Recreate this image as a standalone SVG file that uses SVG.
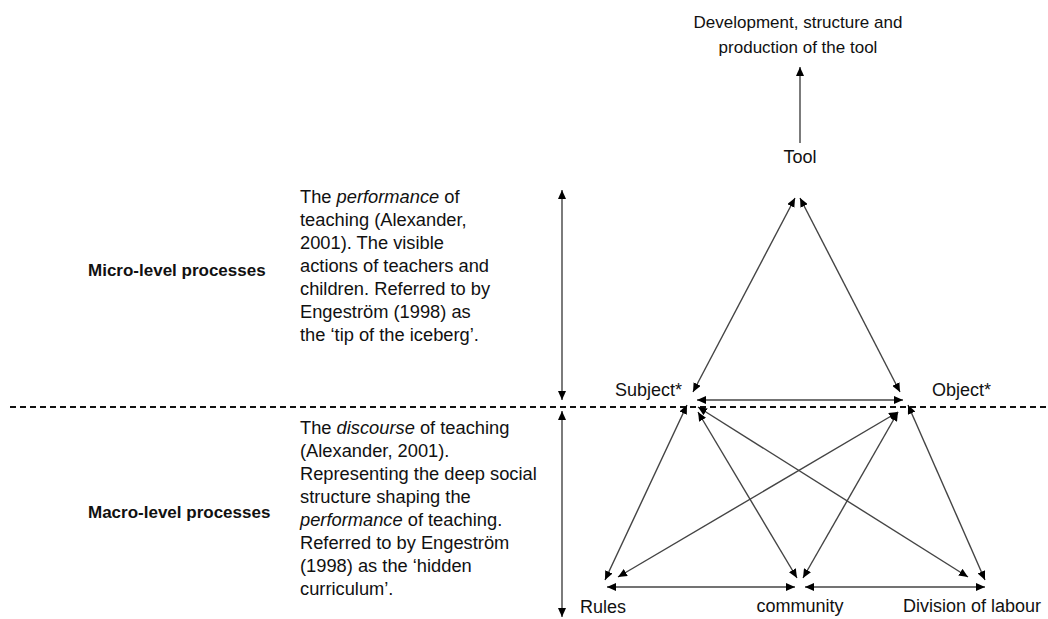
<svg xmlns="http://www.w3.org/2000/svg" width="1048" height="619" viewBox="0 0 1048 619">
  <style>
    text { font-family: "Liberation Sans", Arial, sans-serif; fill: #111; }
    .lbl { font-size: 18px; }
    .top { font-size: 17px; }
    .body { font-size: 18.3px; }
    .head { font-size: 17px; font-weight: bold; }
    .it { font-style: italic; }
    .link { stroke: #444; stroke-width: 1.4; fill: none; marker-start: url(#arrow); marker-end: url(#arrow); }
    .single { stroke: #444; stroke-width: 1.4; fill: none; marker-end: url(#arrow); }
    .divider { stroke: #111; stroke-width: 2; stroke-dasharray: 6 4; fill: none; }
  </style>
  <defs>
    <marker id="arrow" markerUnits="userSpaceOnUse" markerWidth="10" markerHeight="8" refX="9" refY="4" orient="auto-start-reverse">
      <path d="M0,0 L9,4 L0,8 z" fill="#000"/>
    </marker>
  </defs>

  <rect width="1048" height="619" fill="#fff"/>

  <!-- level divider -->
  <line class="divider" x1="10" y1="407" x2="1048" y2="407"/>

  <!-- level descriptions -->
  <g id="micro-level">
    <text class="head" x="88" y="276">Micro-level processes</text>
    <text class="body" x="300">
      <tspan x="300" y="203">The <tspan class="it">performance</tspan> of</tspan>
      <tspan x="300" y="226">teaching (Alexander,</tspan>
      <tspan x="300" y="249">2001). The visible</tspan>
      <tspan x="300" y="272">actions of teachers and</tspan>
      <tspan x="300" y="295">children. Referred to by</tspan>
      <tspan x="300" y="318">Engeström (1998) as</tspan>
      <tspan x="300" y="341">the ‘tip of the iceberg’.</tspan>
    </text>
  </g>
  <g id="macro-level">
    <text class="head" x="88" y="518">Macro-level processes</text>
    <text class="body" x="300">
      <tspan x="300" y="434">The <tspan class="it">discourse</tspan> of teaching</tspan>
      <tspan x="300" y="457">(Alexander, 2001).</tspan>
      <tspan x="300" y="480">Representing the deep social</tspan>
      <tspan x="300" y="503">structure shaping the</tspan>
      <tspan x="300" y="526"><tspan class="it">performance</tspan> of teaching.</tspan>
      <tspan x="300" y="549">Referred to by Engeström</tspan>
      <tspan x="300" y="572">(1998) as the ‘hidden</tspan>
      <tspan x="300" y="595">curriculum’.</tspan>
    </text>
  </g>

  <!-- nodes of the activity system -->
  <g id="outcome">
    <text class="top" x="798" y="28" text-anchor="middle">Development, structure and</text>
    <text class="top" x="798" y="53" text-anchor="middle">production of the tool</text>
  </g>
  <g id="tool">
    <text class="lbl" x="800" y="163" text-anchor="middle">Tool</text>
  </g>
  <g id="subject">
    <text class="lbl" x="682" y="396" text-anchor="end">Subject*</text>
  </g>
  <g id="object">
    <text class="lbl" x="932" y="396">Object*</text>
  </g>
  <g id="rules">
    <text class="lbl" x="580" y="613">Rules</text>
  </g>
  <g id="community">
    <text class="lbl" x="800" y="612" text-anchor="middle">community</text>
  </g>
  <g id="division-of-labour">
    <text class="lbl" x="903" y="612">Division of labour</text>
  </g>

  <!-- connectors -->
  <g id="connectors">
    <line class="single" x1="562" y1="300" x2="562" y2="190"/>
    <line class="single" x1="562" y1="300" x2="562" y2="400"/>
    <line class="single" x1="562" y1="510" x2="562" y2="411"/>
    <line class="single" x1="562" y1="510" x2="562" y2="617"/>

    <line class="single" x1="800" y1="143" x2="800" y2="67"/>

    <line class="link" x1="795" y1="198" x2="693" y2="392"/>
    <line class="link" x1="800" y1="198" x2="900" y2="392"/>
    <line class="link" x1="697" y1="400" x2="903" y2="400"/>

    <line class="link" x1="687" y1="405" x2="605" y2="580"/>
    <line class="link" x1="698" y1="412" x2="797" y2="578"/>
    <line class="link" x1="698" y1="407" x2="968" y2="577"/>

    <line class="link" x1="898" y1="412" x2="618" y2="577"/>
    <line class="link" x1="898" y1="412" x2="803" y2="578"/>
    <line class="link" x1="908" y1="405" x2="985" y2="580"/>

    <line class="link" x1="607" y1="587" x2="795" y2="587"/>
    <line class="link" x1="805" y1="587" x2="985" y2="587"/>
  </g>
</svg>
